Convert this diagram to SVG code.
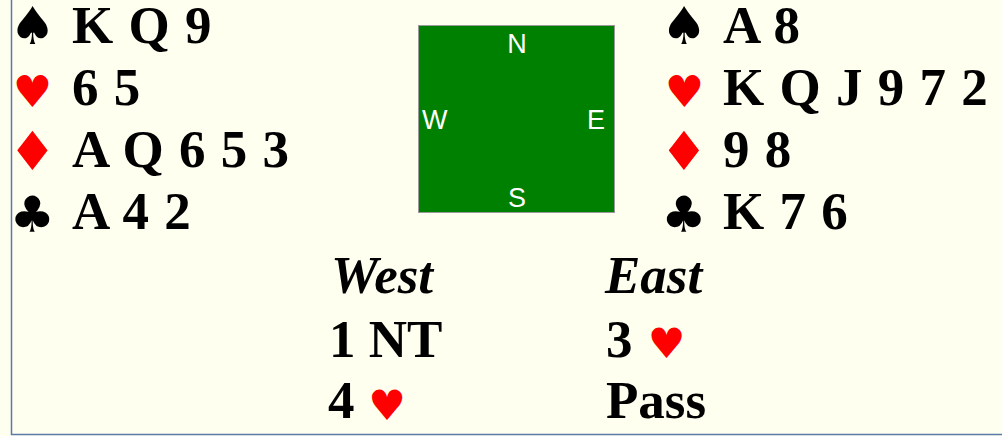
<svg xmlns="http://www.w3.org/2000/svg" width="1002" height="436" viewBox="0 0 1002 436">
<style>
.c{font-family:"Liberation Serif","Times New Roman",serif;font-weight:bold;font-size:53px;fill:#000}
.h{word-spacing:2px}
.i{font-style:italic}
.s{font-family:"DejaVu Sans",sans-serif;text-anchor:middle}
.sp{font-size:52px;fill:#000}
.he{font-size:44px;fill:#ff0000}
.di{font-size:54px;fill:#ff0000}
.cl{font-size:50px;fill:#000}
.hb{font-size:42px;fill:#ff0000}
.d{font-family:"Liberation Sans",Arial,sans-serif;font-size:27px;fill:#fff}
</style>
<rect width="1002" height="436" fill="#fffff0"/>
<g id="border" stroke="#5b7aa8" stroke-width="1.5" fill="none">
<line x1="11.5" y1="0" x2="11.5" y2="435"/>
<line x1="11" y1="434.5" x2="1002" y2="434.5"/>
</g>
<g id="west-hand">
<text class="s sp" x="32.5" y="44">♠</text><text class="c h" x="72" y="43">K Q 9</text>
<text class="s he" x="32.5" y="107">♥</text><text class="c h" x="72" y="105">6 5</text>
<text class="s di" x="32.5" y="170">♦</text><text class="c h" x="72" y="167">A Q 6 5 3</text>
<text class="s cl" x="32.5" y="232">♣</text><text class="c h" x="72" y="229">A 4 2</text>
</g>
<g id="east-hand">
<text class="s sp" x="684" y="44">♠</text><text class="c h" x="723" y="43">A 8</text>
<text class="s he" x="684.5" y="107">♥</text><text class="c h" x="723" y="105">K Q J 9 7 2</text>
<text class="s di" x="684" y="170">♦</text><text class="c h" x="723" y="167">9 8</text>
<text class="s cl" x="684" y="232">♣</text><text class="c h" x="723" y="229">K 7 6</text>
</g>
<g id="table">
<rect x="418.5" y="25.5" width="196" height="187" fill="#008000" stroke="#999" stroke-width="1"/>
<text class="d" x="517" y="53" text-anchor="middle">N</text>
<text class="d" x="422" y="129">W</text>
<text class="d" x="587" y="129">E</text>
<text class="d" x="517" y="207" text-anchor="middle">S</text>
</g>
<g id="bidding">
<text class="c i" x="331" y="293">West</text>
<text class="c i" x="605" y="293">East</text>
<text class="c" x="329" y="357">1 NT</text>
<text class="c" x="606" y="357">3</text><text class="s hb" x="666.5" y="358">♥</text>
<text class="c" x="328" y="418">4</text><text class="s hb" x="387" y="420">♥</text>
<text class="c" x="606" y="418">Pass</text>
</g>
</svg>
